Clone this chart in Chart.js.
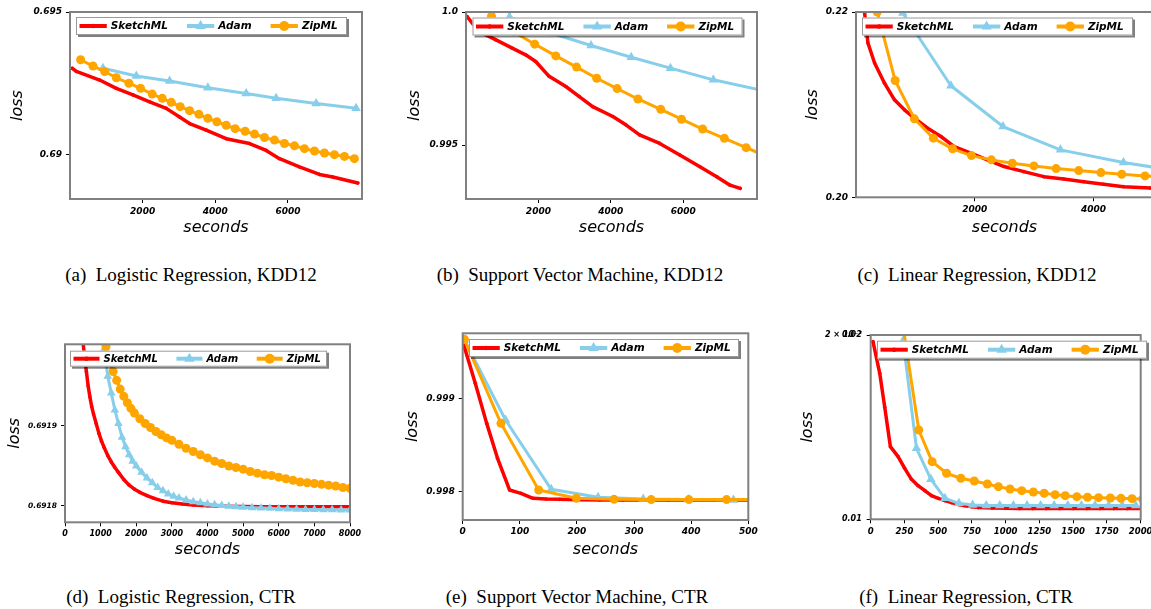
<!DOCTYPE html>
<html><head><meta charset="utf-8">
<script src="https://cdn.jsdelivr.net/npm/chart.js@4.4.1/dist/chart.umd.min.js"></script>
<style>
html,body{margin:0;padding:0;background:#fff;overflow:hidden;width:1151px;height:609px;position:relative;}
canvas{position:absolute;}
.cap{position:absolute;font-family:"Liberation Serif","Times New Roman",serif;font-size:19px;line-height:22px;white-space:pre;transform:translateX(-50%);color:#000;}
</style></head><body>
<div class="cap" style="left:191px;top:264px">(a)  Logistic Regression, KDD12</div>
<div class="cap" style="left:580px;top:264px">(b)  Support Vector Machine, KDD12</div>
<div class="cap" style="left:977px;top:264px">(c)  Linear Regression, KDD12</div>
<div class="cap" style="left:181px;top:586px">(d)  Logistic Regression, CTR</div>
<div class="cap" style="left:577px;top:586px">(e)  Support Vector Machine, CTR</div>
<div class="cap" style="left:966px;top:586px">(f)  Linear Regression, CTR</div>
<script>
const seriesNames = ['SketchML', 'Adam', 'ZipML'];

// (a) Logistic Regression, KDD12
const aSketchX = [64,174,816,1275,1733,2192,2650,3017,3292,3750,4300,4943,5401,5768,6318,6868,7235,7923];
const aSketchY = [0.69303,0.69292,0.69262,0.69233,0.69210,0.69186,0.69163,0.69133,0.69110,0.69087,0.69057,0.69040,0.69016,0.68987,0.68958,0.68932,0.68923,0.68902];
const aAdamX = [908,1825,2742,3796,4851,5676,6777,7877];
const aAdamY = [0.69303,0.69276,0.69259,0.69235,0.69215,0.69198,0.69180,0.69163];
const aZipX = [293,633,954,1275,1623,1944,2265,2540,2788,3035,3292,3549,3796,4044,4301,4548,4823,5080,5355,5630,5905,6181,6456,6731,7006,7281,7556,7831];
const aZipY = [0.69333,0.69311,0.69292,0.69270,0.69251,0.69233,0.69213,0.69198,0.69184,0.69169,0.69155,0.69142,0.69128,0.69116,0.69104,0.69092,0.69083,0.69073,0.69061,0.69052,0.69040,0.69032,0.69022,0.69014,0.69007,0.69001,0.68995,0.68987];
const aXTicks = [2000,4000,6000];
const aXLabels = ['2000','4000','6000'];
const aYTicks = [0.69,0.695];
const aYLabels = ['0.69','0.695'];

// (b) Support Vector Machine, KDD12
const bSketchX = [30,352,815,1278,1648,1926,2296,2759,3130,3500,4056,4426,4796,5352,5907,6463,6926,7296,7574];
const bSketchY = [0.99983,0.99927,0.99896,0.99864,0.99839,0.99814,0.99758,0.99720,0.99682,0.99644,0.99607,0.99575,0.99538,0.99506,0.99462,0.99418,0.99381,0.99349,0.99337];
const bAdamX = [1180,1204,2343,3454,4565,5648,6833,8200];
const bAdamY = [1.0008,0.99981,0.99921,0.99874,0.99830,0.99789,0.99745,0.99705];
const bZipX = [704,1315,1898,2481,3056,3611,4176,4750,5380,5954,6537,7139,7741,8330];
const bZipY = [0.99984,0.99926,0.99879,0.99835,0.99793,0.99751,0.99712,0.99673,0.99634,0.99597,0.99560,0.99525,0.99490,0.99456];
const bXTicks = [2000,4000,6000];
const bXLabels = ['2000','4000','6000'];
const bYTicks = [0.995,1.0];
const bYLabels = ['0.995','1.0'];

// (c) Linear Regression, KDD12
const cSketchX = [90,145,201,313,480,648,816,983,1207,1430,1654,1933,2212,2492,2827,3162,3497,3833,4168,4503,4950];
const cSketchY = [0.2225,0.21989,0.21665,0.21449,0.21232,0.21052,0.20944,0.20854,0.20746,0.20656,0.20548,0.20476,0.20404,0.20332,0.20277,0.20223,0.20198,0.20169,0.20141,0.20115,0.20101];
const cAdamX = [788,1598,2475,3442,4503,5565];
const cAdamY = [0.21989,0.21204,0.20764,0.20512,0.20375,0.2027];
const cZipX = [358,659,983,1302,1626,1944,2279,2631,2995,3369,3749,4123,4475,4866,5230];
const cZipY = [0.2200,0.21261,0.20847,0.20638,0.20523,0.20450,0.20404,0.20368,0.20339,0.20310,0.20288,0.20267,0.20249,0.20231,0.20218];
const cXTicks = [2000,4000];
const cXLabels = ['2000','4000'];
const cYTicks = [0.20,0.22];
const cYLabels = ['0.20','0.22'];

// (d) Logistic Regression, CTR
const dSketchX = [495,550,600,650,700,750,800,875,950,1025,1100,1200,1300,1400,1500,1650,1800,1950,2100,2300,2500,2750,3000,3300,3600,4000,4500,5000,5500,6000,6500,7000,7500,8000];
const dSketchY = [0.692008,0.691987,0.691968,0.69195,0.691936,0.691924,0.691915,0.691903,0.691891,0.691881,0.691873,0.691863,0.691855,0.691848,0.691842,0.691833,0.691826,0.691821,0.691817,0.691813,0.6918095,0.691806,0.691804,0.6918025,0.6918012,0.6918002,0.6917995,0.6917992,0.6917991,0.691799,0.691799,0.691799,0.691799,0.691799];
const dAdamX = [1100,1200,1300,1400,1500,1600,1700,1800,1900,2000,2150,2300,2450,2600,2750,2900,3050,3200,3400,3600,3800,4000,4200,4400,4600,4800,5000,5250,5500,5750,6000,6250,6500,6750,7000,7250,7500,7750,8000];
const dAdamY = [0.691996,0.691962,0.691941,0.69192,0.691903,0.691886,0.691874,0.691864,0.691856,0.69185,0.691842,0.691835,0.691829,0.691823,0.691819,0.691815,0.691812,0.69181,0.6918075,0.6918054,0.691804,0.6918025,0.6918015,0.6918005,0.6917995,0.691799,0.6917985,0.6917978,0.6917973,0.691797,0.6917966,0.6917962,0.691796,0.6917957,0.6917955,0.6917953,0.6917952,0.691795,0.691795];
const dZipX = [1150,1250,1350,1450,1550,1650,1750,1850,1950,2100,2250,2400,2550,2700,2850,3000,3200,3400,3600,3800,4000,4200,4400,4600,4800,5000,5200,5400,5600,5800,6000,6200,6400,6600,6800,7000,7200,7400,7600,7800,8000];
const dZipY = [0.691999,0.69198,0.691968,0.691957,0.691946,0.691937,0.691929,0.691922,0.691916,0.691909,0.691903,0.691898,0.691893,0.691889,0.691885,0.691882,0.691877,0.691872,0.691868,0.691864,0.69186,0.691856,0.691853,0.69185,0.691848,0.691846,0.691843,0.691841,0.691839,0.691838,0.691836,0.691834,0.691832,0.69183,0.691829,0.691828,0.691827,0.691826,0.691825,0.691823,0.691822];
const dXTicks = [0,1000,2000,3000,4000,5000,6000,7000,8000];
const dXLabels = ['0','1000','2000','3000','4000','5000','6000','7000','8000'];
const dYTicks = [0.6918,0.6919];
const dYLabels = ['0.6918','0.6919'];

// (e) Support Vector Machine, CTR
const eSketchX = [1,22,42,61,82,102,123,146,170,200,240,280,320,360,400,440,480,500];
const eSketchY = [0.999601,0.999169,0.998737,0.99836,0.998018,0.997982,0.997928,0.997921,0.997917,0.997912,0.99791,0.99791,0.99791,0.99791,0.99791,0.99791,0.99791,0.99791];
const eAdamX = [3,75,155,237,316,395,474];
const eAdamY = [0.999637,0.998773,0.998025,0.997939,0.997921,0.997914,0.99791];
const eZipX = [3,67,133,199,265,330,396,462,528];
const eZipY = [0.999644,0.998737,0.998018,0.997928,0.997917,0.997914,0.997914,0.997914,0.997914];
const eXTicks = [0,100,200,300,400,500];
const eXLabels = ['0','100','200','300','400','500'];
const eYTicks = [0.998,0.999];
const eYLabels = ['0.998','0.999'];

// (f) Linear Regression, CTR (log y)
const fSketchX = [17,67,104,146,203,252,302,351,401,450,500,550,599,650,700,750,800,900,1000,1100,1200,1300,1400,1500,1600,1700,1800,1900,2000];
const fSketchY = [0.019504,0.017315,0.015236,0.013143,0.012656,0.012114,0.011623,0.011349,0.011138,0.01093,0.010821,0.010727,0.010647,0.01057,0.01052,0.01048,0.01045,0.01043,0.01042,0.01041,0.01041,0.01041,0.01041,0.01041,0.01041,0.01041,0.01041,0.01041,0.01041];
const fAdamX = [240,339,446,550,653,755,856,956,1057,1158,1259,1359,1460,1561,1661,1762,1863,1963];
const fAdamY = [0.019578,0.013061,0.011623,0.010821,0.01062,0.010555,0.010534,0.010534,0.010534,0.010534,0.010534,0.010534,0.010534,0.010534,0.010534,0.010534,0.010534,0.010534];
const fZipX = [240,356,455,562,668,767,864,946,1032,1119,1205,1285,1366,1441,1527,1606,1688,1775,1854,1936,2015];
const fZipY = [0.02063,0.013993,0.01242,0.011889,0.011668,0.011551,0.011421,0.011307,0.011209,0.011138,0.011082,0.011027,0.010972,0.01093,0.01089,0.010863,0.010849,0.010835,0.010821,0.010807,0.010794];
const fXTicks = [0,250,500,750,1000,1250,1500,1750,2000];
const fXLabels = ['0','250','500','750','1000','1250','1500','1750','2000'];
const fYTicks = [0.01,0.02];
const fYLabels = ['0.01','2 × 10⁻²'];
const fYOverlay = '0.02';

const FONT = "'DejaVu Sans', sans-serif";
const COL = ['#ff0000', '#87ceeb', '#ffa500'];
const STYLE = [
  {pointStyle:'circle', r:1.8, lw:3.5},
  {pointStyle:'triangle', r:5.5, lw:3},
  {pointStyle:'circle', r:4.5, lw:3}
];

function pts(xs, ys){ return xs.map((x,i)=>({x:x, y:ys[i]})); }

function drawMarker(ctx, style, r, x, y, color){
  ctx.fillStyle = color;
  ctx.beginPath();
  if (style === 'triangle') {
    for (let k=0;k<3;k++){
      const a = -Math.PI/2 + k*2*Math.PI/3;
      const px = x + Math.cos(a)*r, py = y + Math.sin(a)*r;
      if (k===0) ctx.moveTo(px,py); else ctx.lineTo(px,py);
    }
    ctx.closePath();
  } else {
    ctx.arc(x,y,r,0,Math.PI*2);
  }
  ctx.fill();
}

const frameLegend = {
  id: 'frameLegend',
  afterDatasetsDraw(chart, args, opts){
    const ctx = chart.ctx, a = chart.chartArea;
    ctx.save();
    ctx.strokeStyle = '#808080';
    ctx.lineWidth = 2;
    ctx.strokeRect(a.left, a.top, a.right-a.left, a.bottom-a.top);
    const L = opts.legend;
    if (L) {
      const x = a.left + L.dx, y = a.top + L.dy, w = L.w, h = L.h;
      ctx.fillStyle = 'rgba(0,0,0,0.5)';
      ctx.fillRect(x+2, y+2, w, h);
      ctx.fillStyle = '#fff';
      ctx.fillRect(x, y, w, h);
      ctx.strokeStyle = '#9a9a9a';
      ctx.lineWidth = 1;
      ctx.strokeRect(x+0.5, y+0.5, w-1, h-1);
      ctx.font = 'italic bold ' + L.fs + 'px ' + FONT;
      ctx.textBaseline = 'middle';
      ctx.textAlign = 'left';
      const cy = y + h/2;
      let cx = x + 3.5;
      const hl = L.fs * 2.6;
      for (let i=0;i<3;i++){
        ctx.strokeStyle = COL[i];
        ctx.lineWidth = 4;
        ctx.beginPath(); ctx.moveTo(cx, cy); ctx.lineTo(cx+hl, cy); ctx.stroke();
        drawMarker(ctx, STYLE[i].pointStyle, i===0 ? 2.2 : (i===1 ? 6 : 5), cx+hl/2, cy, COL[i]);
        ctx.fillStyle = '#000';
        ctx.fillText(seriesNames[i], cx+hl+4, cy+0.5);
        cx += hl + 4 + ctx.measureText(seriesNames[i]).width + L.gap;
      }
    }
    if (opts.overlay) {
      const ys = chart.scales.y;
      ctx.font = 'italic bold ' + opts.overlay.fs + 'px ' + FONT;
      ctx.fillStyle = '#000';
      ctx.textAlign = 'right';
      ctx.textBaseline = 'middle';
      ctx.fillText(opts.overlay.text, a.left - opts.overlay.off, ys.getPixelForValue(opts.overlay.value));
    }
    ctx.restore();
  }
};

function makePanel(p){
  const c = document.createElement('canvas');
  c.width = p.cw; c.height = p.ch;
  c.style.left = p.cx + 'px'; c.style.top = p.cy + 'px';
  c.style.width = p.cw + 'px'; c.style.height = p.ch + 'px';
  document.body.appendChild(c);
  const tickFontX = {family: FONT, size: p.fsx, weight: 'bold', style: 'italic'};
  const tickFontY = {family: FONT, size: p.fsy, weight: 'bold', style: 'italic'};
  const titleFont = {family: FONT, size: 16, style: 'italic', weight: 'normal'};
  const datasets = p.series.map((s,i)=>({
    label: seriesNames[i],
    data: pts(s[0], s[1]),
    borderColor: COL[i],
    backgroundColor: COL[i],
    borderWidth: STYLE[i].lw,
    pointStyle: STYLE[i].pointStyle,
    pointRadius: i===0 ? 1.8 : p.mr[i],
    pointBackgroundColor: COL[i],
    pointBorderColor: COL[i],
    pointBorderWidth: 0,
    borderJoinStyle: 'round',
    borderCapStyle: 'round',
    tension: 0,
    clip: 0,
    order: 3 - i
  }));
  new Chart(c, {
    type: 'line',
    data: {datasets},
    plugins: [frameLegend],
    options: {
      responsive: false, animation: false, events: [],
      devicePixelRatio: 1,
      layout: {padding: {left: 0, top: p.T - p.cy, right: p.cx + p.cw - p.R, bottom: 0}},
      plugins: {
        legend: {display: false}, tooltip: {enabled: false},
        frameLegend: {legend: p.legend, overlay: p.overlay}
      },
      scales: {
        x: {
          type: 'linear', min: p.xmin, max: p.xmax,
          afterFit: ax => { ax.height = p.cy + p.ch - p.B; },
          afterBuildTicks: ax => { ax.ticks = p.xt.map(v=>({value:v})); },
          ticks: {callback: (v,i)=>p.xl[i], font: tickFontX, color: '#000', padding: p.xpad, maxRotation: 0, minRotation: 0, autoSkip: false},
          grid: {drawOnChartArea: false, drawTicks: true, tickLength: 4, color: '#000', lineWidth: 1},
          border: {display: false},
          title: {display: true, text: 'seconds', font: titleFont, color: '#000', padding: {top: 0, bottom: p.xtp}}
        },
        y: {
          type: p.logy ? 'logarithmic' : 'linear', min: p.ymin, max: p.ymax,
          afterFit: ax => { ax.width = p.L - p.cx; },
          afterBuildTicks: ax => { ax.ticks = p.yt.map(v=>({value:v})); },
          ticks: {callback: (v,i)=>p.yl[i], font: tickFontY, color: '#000', padding: p.ypad, autoSkip: false},
          grid: {drawOnChartArea: false, drawTicks: true, tickLength: 4, color: '#000', lineWidth: 1},
          border: {display: false},
          title: {display: true, text: 'loss', font: titleFont, color: '#000', padding: {top: p.ytp, bottom: 0}}
        }
      }
    }
  });
}

const panels = [
  {cx:0, cy:0, cw:380, ch:250, L:70, T:12, R:362, B:199, xmin:0, xmax:8040, ymin:0.68846, ymax:0.695,
   series:[[aSketchX,aSketchY],[aAdamX,aAdamY],[aZipX,aZipY]], xt:aXTicks, xl:aXLabels, yt:aYTicks, yl:aYLabels,
   fsx:9, fsy:9, xpad:3, ypad:4, xtp:12.4, ytp:8.4, mr:[1.8,5.5,4.5], legend:{dx:6, dy:5, w:271, h:18, fs:10.5, gap:19}},
  {cx:380, cy:0, cw:390, ch:250, L:466, T:12, R:757, B:199, xmin:0, xmax:8040, ymin:0.99297, ymax:1.0,
   series:[[bSketchX,bSketchY],[bAdamX,bAdamY],[bZipX,bZipY]], xt:bXTicks, xl:bXLabels, yt:bYTicks, yl:bYLabels,
   fsx:9, fsy:9, xpad:3, ypad:4, xtp:12.1, ytp:25.4, mr:[1.8,5.5,4.5], legend:{dx:6.5, dy:5.5, w:270, h:18, fs:10.5, gap:19}},
  {cx:770, cy:0, cw:400, ch:250, L:856, T:12, R:1153, B:197.3, xmin:0, xmax:5000, ymin:0.20, ymax:0.22,
   series:[[cSketchX,cSketchY],[cAdamX,cAdamY],[cZipX,cZipY]], xt:cXTicks, xl:cXLabels, yt:cYTicks, yl:cYLabels,
   fsx:9, fsy:9, xpad:3, ypad:4, xtp:12.1, ytp:33.4, mr:[1.8,5.5,4.5], legend:{dx:6, dy:5.5, w:271, h:18, fs:10.5, gap:19}},
  {cx:0, cy:320, cw:380, ch:270, L:65, T:344.3, R:350, B:522.3, xmin:0, xmax:8000, ymin:0.69177958, ymax:0.692002,
   series:[[dSketchX,dSketchY],[dAdamX,dAdamY],[dZipX,dZipY]], xt:dXTicks, xl:dXLabels, yt:dYTicks, yl:dYLabels,
   fsx:8, fsy:7.5, xpad:2.5, ypad:4, xtp:30.4, ytp:5.4, mr:[1.8,5,4.5], legend:{dx:5, dy:6.4, w:257, h:16, fs:10, gap:18.5}},
  {cx:380, cy:320, cw:390, ch:270, L:462.7, T:333.3, R:748.3, B:520, xmin:0, xmax:500, ymin:0.997694, ymax:0.999709,
   series:[[eSketchX,eSketchY],[eAdamX,eAdamY],[eZipX,eZipY]], xt:eXTicks, xl:eXLabels, yt:eYTicks, yl:eYLabels,
   fsx:9, fsy:9, xpad:2.5, ypad:4, xtp:30.4, ytp:23.7, mr:[1.8,5.5,4.5], legend:{dx:6.3, dy:5.7, w:270, h:18, fs:10.5, gap:19}},
  {cx:770, cy:320, cw:400, ch:270, L:870.7, T:335, R:1140.7, B:519.3, xmin:0, xmax:2000, ymin:0.01, ymax:0.02, logy:true,
   series:[[fSketchX,fSketchY],[fAdamX,fAdamY],[fZipX,fZipY]], xt:fXTicks, xl:fXLabels, yt:fYTicks, yl:fYLabels,
   fsx:8.5, fsy:8, xpad:3, ypad:5, xtp:30.4, ytp:28.7, mr:[1.8,5.5,4.5], legend:{dx:6.3, dy:5.7, w:270, h:18, fs:10.5, gap:19},
   overlay:{text:fYOverlay, value:0.02, off:9, fs:8}}
];

panels.forEach(makePanel);
</script>
</body></html>
